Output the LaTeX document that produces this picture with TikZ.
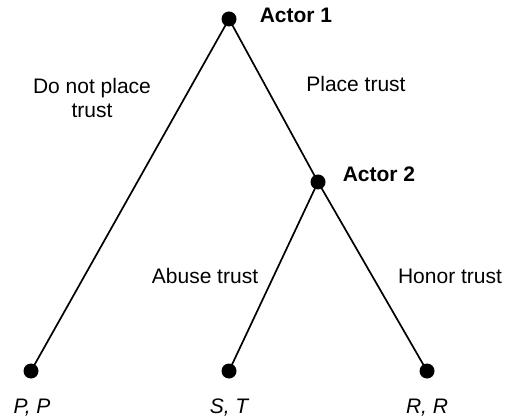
\documentclass[tikz,border=0pt]{standalone}
\usepackage{fontspec}
\setmainfont{Liberation Sans}
\begin{document}
\begin{tikzpicture}[x=1pt,y=-1pt,
  dot/.style={circle,fill=black,draw=none,minimum size=15pt,inner sep=0pt},
  edge/.style={line width=1.7pt,black},
  lbl/.style={font=\fontsize{21}{24}\selectfont,inner sep=0pt,anchor=base},
  actor/.style={lbl,font=\fontsize{21}{24}\selectfont\bfseries},
  pay/.style={lbl,font=\fontsize{21}{24}\selectfont\itshape}]
\useasboundingbox (0,0) rectangle (505,419);
\coordinate (a1c) at (229,19);
\coordinate (a2c) at (318,182);
\coordinate (ppc) at (31,371);
\coordinate (stc) at (229,371);
\coordinate (rrc) at (427,371);
\draw[edge] (a1c) -- (ppc);
\draw[edge] (a1c) -- (a2c);
\draw[edge] (a2c) -- (stc);
\draw[edge] (a2c) -- (rrc);
\node[dot] (a1) at (a1c) {};
\node[dot] (a2) at (a2c) {};
\node[dot] (pp) at (ppc) {};
\node[dot] (st) at (stc) {};
\node[dot] (rr) at (rrc) {};
\node[actor] (t1) at (296,23) {Actor 1};
\node[actor] (t2) at (379,182) {Actor 2};
\node[lbl,align=center,anchor=center] (dnp) at (92,97.5) {Do not place\\trust};
\node[lbl] (pt) at (356,92) {Place trust};
\node[lbl] (ab) at (205,283) {Abuse trust};
\node[lbl] (ho) at (450,283) {Honor trust};
\node[pay] (lpp) at (32,413) {P, P};
\node[pay] (lst) at (229,413) {S, T};
\node[pay] (lrr) at (427,413) {R, R};
\end{tikzpicture}
\end{document}
